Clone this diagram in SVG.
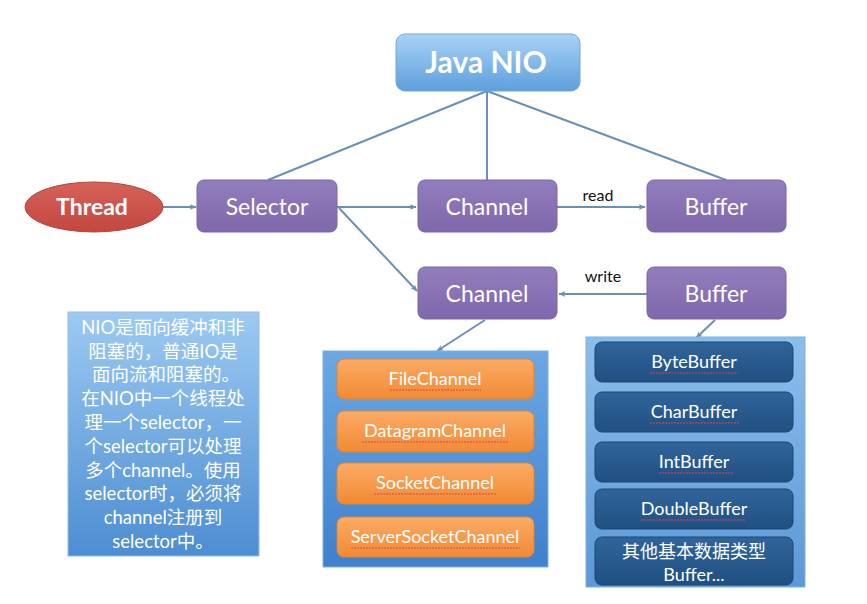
<svg xmlns="http://www.w3.org/2000/svg" width="867" height="604" viewBox="0 0 867 604">
  <defs>
    <linearGradient id="gBlue" x1="0" y1="0" x2="0" y2="1">
      <stop offset="0" stop-color="#a9d2f6"/>
      <stop offset="1" stop-color="#5e9fdc"/>
    </linearGradient>
    <linearGradient id="gPurple" x1="0" y1="0" x2="0" y2="1">
      <stop offset="0" stop-color="#927dbc"/>
      <stop offset="1" stop-color="#7f68ab"/>
    </linearGradient>
    <linearGradient id="gRed" x1="0" y1="0" x2="0" y2="1">
      <stop offset="0" stop-color="#d6625a"/>
      <stop offset="1" stop-color="#c2473f"/>
    </linearGradient>
    <linearGradient id="gNote" x1="0" y1="0" x2="0" y2="1">
      <stop offset="0" stop-color="#9ccaf1"/>
      <stop offset="1" stop-color="#4d8dd2"/>
    </linearGradient>
    <linearGradient id="gCont1" x1="0" y1="0" x2="0" y2="1">
      <stop offset="0" stop-color="#6ba8e4"/>
      <stop offset="1" stop-color="#3f80cc"/>
    </linearGradient>
    <linearGradient id="gCont2" x1="0" y1="0" x2="0" y2="1">
      <stop offset="0" stop-color="#8cbeec"/>
      <stop offset="1" stop-color="#5b98d6"/>
    </linearGradient>
    <linearGradient id="gOrange" x1="0" y1="0" x2="0" y2="1">
      <stop offset="0" stop-color="#fbab66"/>
      <stop offset="1" stop-color="#f18a34"/>
    </linearGradient>
    <linearGradient id="gDark" x1="0" y1="0" x2="0" y2="1">
      <stop offset="0" stop-color="#30659b"/>
      <stop offset="1" stop-color="#214f81"/>
    </linearGradient>
    <marker id="arr" viewBox="0 0 10 10" refX="9" refY="5" markerWidth="7" markerHeight="7" orient="auto" markerUnits="userSpaceOnUse">
      <path d="M0,1 L10,5 L0,9 L2.5,5 Z" fill="#6a8fb9"/>
    </marker>
  </defs>
  <style>
    .conn { stroke: #6a8fb9; stroke-width: 2; fill: none; }
    .purple { fill: url(#gPurple); stroke: #7a64a6; stroke-width: 1; }
    .lbl { font-family: "Lato", "Open Sans", "Noto Sans CJK SC", sans-serif; fill: #ffffff; text-anchor: middle; }
    .node { font-size: 23px; }
    .edge { font-family: "Lato", "Open Sans", sans-serif; font-size: 16px; fill: #111111; text-anchor: middle; }
    .note { font-family: "Lato", "Noto Sans CJK SC", sans-serif; font-size: 18.5px; fill: #ffffff; text-anchor: middle; }
    .orange { fill: url(#gOrange); stroke: #e5832f; stroke-width: 1; }
    .dark { fill: url(#gDark); stroke: #1d4673; stroke-width: 1; }
    .item { font-family: "Lato", "Open Sans", "Noto Sans CJK SC", sans-serif; font-size: 18px; fill: #ffffff; text-anchor: middle; }
    .sq { stroke: #e0405a; stroke-width: 1; fill: none; stroke-dasharray: 2 1; }
  </style>

  <rect width="867" height="604" fill="#ffffff"/>

  <g id="connectors">
    <line class="conn" x1="487" y1="91" x2="268" y2="180"/>
    <line class="conn" x1="487" y1="91" x2="487" y2="180"/>
    <line class="conn" x1="487" y1="91" x2="726" y2="180"/>
    <line class="conn" x1="163" y1="207" x2="196" y2="207" marker-end="url(#arr)"/>
    <line class="conn" x1="337" y1="207" x2="416" y2="207" marker-end="url(#arr)"/>
    <line class="conn" x1="339" y1="208" x2="417" y2="291" marker-end="url(#arr)"/>
    <line class="conn" x1="557" y1="207" x2="645" y2="207" marker-end="url(#arr)"/>
    <line class="conn" x1="647" y1="294" x2="559" y2="294" marker-end="url(#arr)"/>
    <line class="conn" x1="485" y1="320" x2="437" y2="351" marker-end="url(#arr)"/>
    <line class="conn" x1="715" y1="320" x2="696" y2="338" marker-end="url(#arr)"/>
    <text class="edge" x="598" y="201">read</text>
    <text class="edge" x="603" y="282">write</text>
  </g>

  <g id="java-nio">
    <rect x="396" y="34" width="184" height="57" rx="9" fill="url(#gBlue)" stroke="#6fa7dd" stroke-width="1"/>
    <text class="lbl" x="486" y="73" font-size="30" font-weight="bold">Java NIO</text>
  </g>

  <g id="thread">
    <ellipse cx="94" cy="207" rx="69" ry="25" fill="url(#gRed)" stroke="#b6433b" stroke-width="1"/>
    <text class="lbl node" x="92" y="215" font-weight="bold">Thread</text>
  </g>

  <g id="selector">
    <rect class="purple" x="197" y="180" width="140" height="52" rx="7"/>
    <text class="lbl node" x="267" y="215">Selector</text>
  </g>

  <g id="channel-read">
    <rect class="purple" x="418" y="180" width="139" height="52" rx="7"/>
    <text class="lbl node" x="487" y="215">Channel</text>
  </g>

  <g id="buffer-read">
    <rect class="purple" x="647" y="180" width="139" height="52" rx="7"/>
    <text class="lbl node" x="716" y="215">Buffer</text>
  </g>

  <g id="channel-write">
    <rect class="purple" x="418" y="267" width="139" height="52" rx="7"/>
    <text class="lbl node" x="487" y="302">Channel</text>
  </g>

  <g id="buffer-write">
    <rect class="purple" x="647" y="267" width="139" height="52" rx="7"/>
    <text class="lbl node" x="716" y="302">Buffer</text>
  </g>

  <g id="note">
    <rect x="68" y="312" width="191" height="244" fill="url(#gNote)" stroke="#8fbde8" stroke-width="1"/>
    <text class="note" x="163" y="334">NIO是面向缓冲和非</text>
    <text class="note" x="163" y="358">阻塞的，普通IO是</text>
    <text class="note" x="166" y="381">面向流和阻塞的。</text>
    <text class="note" x="163" y="405">在NIO中一个线程处</text>
    <text class="note" x="163" y="429">理一个selector，一</text>
    <text class="note" x="163" y="453">个selector可以处理</text>
    <text class="note" x="163" y="477">多个channel。使用</text>
    <text class="note" x="163" y="500">selector时，必须将</text>
    <text class="note" x="163" y="524">channel注册到</text>
    <text class="note" x="163" y="548">selector中。</text>
  </g>

  <g id="channel-types">
    <rect x="323" y="351" width="225" height="216" fill="url(#gCont1)" stroke="#7fb0e0" stroke-width="1"/>
    <rect class="orange" x="337" y="359" width="197" height="40" rx="7"/>
    <text class="item" x="435" y="385">FileChannel</text>
    <path class="sq" d="M390,390 H481"/>
    <rect class="orange" x="337" y="411" width="197" height="41" rx="7"/>
    <text class="item" x="435" y="437">DatagramChannel</text>
    <path class="sq" d="M362,442 H509"/>
    <rect class="orange" x="337" y="463" width="197" height="41" rx="7"/>
    <text class="item" x="435" y="489">SocketChannel</text>
    <path class="sq" d="M374,494 H496"/>
    <rect class="orange" x="337" y="517" width="197" height="40" rx="7"/>
    <text class="item" x="435" y="543">ServerSocketChannel</text>
    <path class="sq" d="M351,548 H520"/>
  </g>

  <g id="buffer-types">
    <rect x="586" y="337" width="219" height="250" fill="url(#gCont2)" stroke="#7fb0e0" stroke-width="1"/>
    <rect class="dark" x="595" y="342" width="198" height="40" rx="7"/>
    <text class="item" x="694" y="368">ByteBuffer</text>
    <path class="sq" d="M650,373 H738"/>
    <rect class="dark" x="595" y="392" width="198" height="40" rx="7"/>
    <text class="item" x="694" y="418">CharBuffer</text>
    <path class="sq" d="M650,423 H739"/>
    <rect class="dark" x="595" y="442" width="198" height="40" rx="7"/>
    <text class="item" x="694" y="468">IntBuffer</text>
    <path class="sq" d="M659,473 H733"/>
    <rect class="dark" x="595" y="489" width="198" height="40" rx="7"/>
    <text class="item" x="694" y="515">DoubleBuffer</text>
    <path class="sq" d="M641,520 H746"/>
    <rect class="dark" x="595" y="537" width="198" height="48" rx="7"/>
    <text class="item" x="694" y="558">其他基本数据类型</text>
    <text class="item" x="694" y="581">Buffer...</text>
  </g>
</svg>
